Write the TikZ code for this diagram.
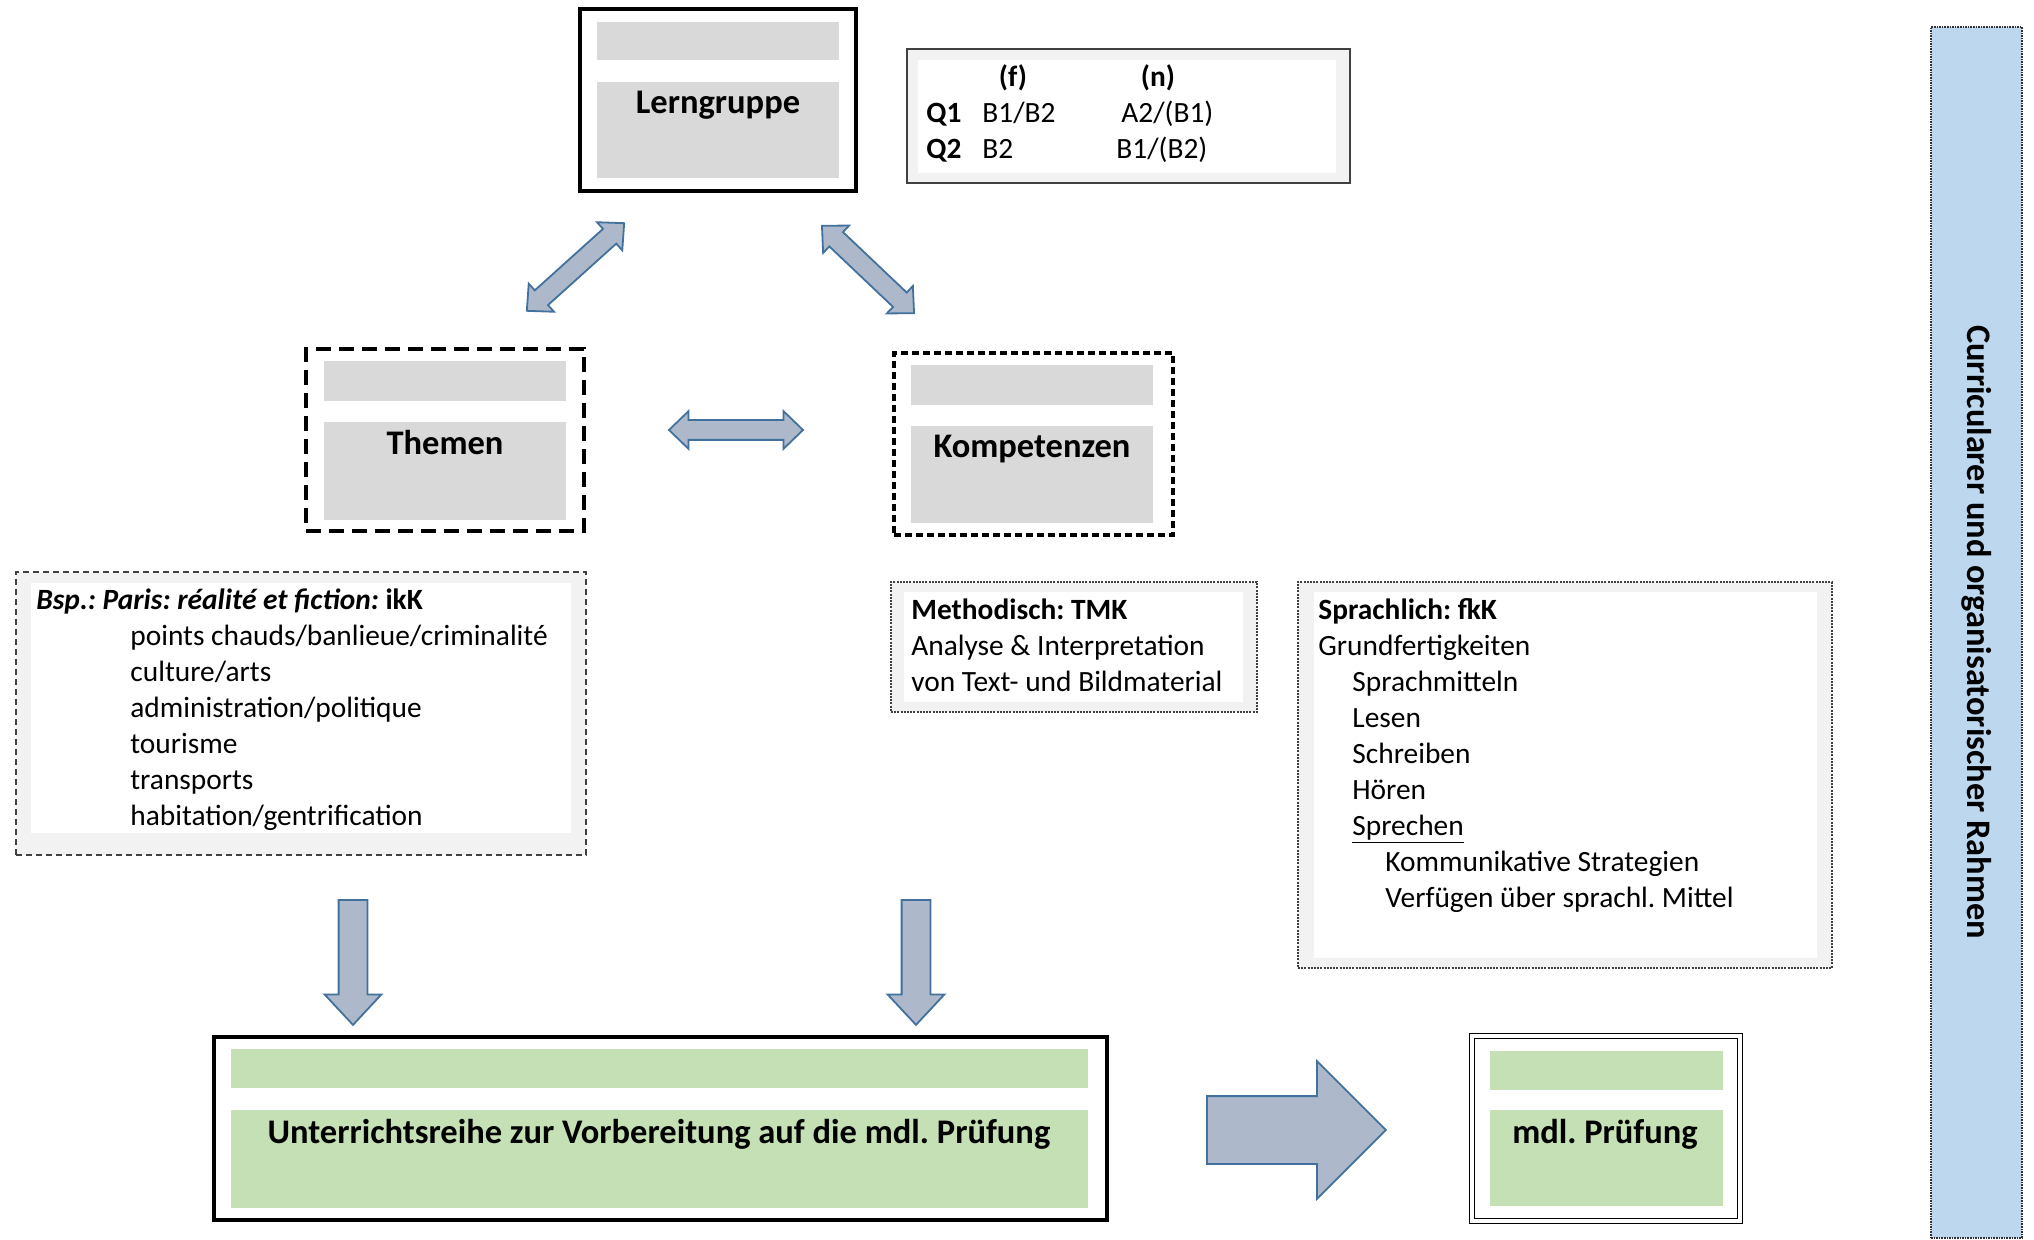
\documentclass[tikz,border=0pt]{standalone}
\usepackage{fontspec}
\setmainfont{Carlito}
\usetikzlibrary{shapes.arrows,fit}
\frenchspacing

\definecolor{bandgrey}{HTML}{D9D9D9}
\definecolor{panelgrey}{HTML}{F2F2F2}
\definecolor{bandgreen}{HTML}{C5E0B4}
\definecolor{arrowfill}{HTML}{ADB9CA}
\definecolor{arrowedge}{HTML}{41719C}
\definecolor{barblue}{HTML}{BDD7EE}

\newcommand\diagbody{\fontsize{14.7}{18}\selectfont}
\newcommand\diaghead{\fontsize{17.25}{21}\selectfont\bfseries}

\begin{document}
\begin{tikzpicture}[
	x=0.5pt, y=-0.5pt,
	font=\diagbody,
	solidbox/.style={
		draw=black,
		line width=1.6pt,
		inner sep=0pt
	},
	themebox/.style={
		solidbox,
		dash pattern=on 7.5pt off 4pt
	},
	compbox/.style={
		solidbox,
		dash pattern=on 3.5pt off 2pt
	},
	tablebox/.style={
		draw=black!75,
		line width=0.6pt,
		fill=panelgrey,
		inner sep=0pt
	},
	notebox/.style={
		tablebox,
		dash pattern=on 3pt off 2pt
	},
	finebox/.style={
		tablebox,
		dash pattern=on 1pt off 0.6pt
	},
	exambox/.style={
		draw=black,
		double=white,
		double distance=1.8pt,
		line width=0.8pt,
		inner sep=0pt
	},
	heading/.style={
		font=\diaghead,
		anchor=base
	},
	cell/.style={
		anchor=base west,
		inner sep=0pt
	},
	notetext/.style={
		anchor=base west,
		inner sep=0pt,
		align=left
	},
	fatarrow/.style={
		single arrow,
		draw=arrowedge,
		fill=arrowfill,
		line width=0.9pt,
		inner xsep=0pt,
		anchor=tail
	},
	twoarrow/.style={
		double arrow,
		draw=arrowedge,
		fill=arrowfill,
		line width=0.9pt,
		inner xsep=0pt,
		inner ysep=4.5pt,
		double arrow head extend=4.5pt,
		double arrow tip angle=88
	}
	]

	\useasboundingbox (0,0) rectangle (2034,1240);

	% Lerngruppe
	\node[solidbox, fit={(580,9) (856,191)}] (lern) {};
	\fill[bandgrey] (597,22) rectangle (839,60);
	\fill[bandgrey] (597,82) rectangle (839,178);
	\node[heading] (lerntitle) at (718,114) {Lerngruppe};

	% Niveaus
	\node[tablebox, fit={(907,49) (1350,183)}] (niveau) {};
	\fill[white] (918,60) rectangle (1336,173);
	\node[anchor=base] (colf) at (1013,87) {\textbf{(f)}};
	\node[anchor=base] (coln) at (1158,87) {\textbf{(n)}};
	\node[cell] (qone) at (926,123) {\textbf{Q1}};
	\node[cell] (qonef) at (982,123) {B1/B2};
	\node[cell] (qonen) at (1121,123) {A2/(B1)};
	\node[cell] (qtwo) at (926,159) {\textbf{Q2}};
	\node[cell] (qtwof) at (982,159) {B2};
	\node[cell] (qtwon) at (1116,159) {B1/(B2)};

	% Themen und Kompetenzen
	\node[themebox, fit={(306,349) (584,531)}] (themen) {};
	\fill[bandgrey] (324,361) rectangle (566,401);
	\fill[bandgrey] (324,422) rectangle (566,520);
	\node[heading] (thementitle) at (445,455) {Themen};

	\node[compbox, fit={(894,353) (1173,535)}] (komp) {};
	\fill[bandgrey] (911,365) rectangle (1153,405);
	\fill[bandgrey] (911,426) rectangle (1153,523);
	\node[heading] (komptitle) at (1032,458) {Kompetenzen};

	\node[twoarrow, minimum height=65.5pt, rotate=42] (lernthemen) at (575.5,267) {};
	\node[twoarrow, minimum height=63.5pt, rotate=-43.5] (lernkomp) at (868,269.5) {};
	\node[twoarrow, minimum height=67pt] (themenkomp) at (736,430) {};

	% Beispiel und Kompetenzbereiche
	\node[notebox, fit={(16,572) (586,855)}] (paris) {};
	\fill[white] (31,583) rectangle (571,833);
	\node[notetext] (paristext) at (36,825) {\textbf{\textit{Bsp.: Paris: réalité et fiction:}} \textbf{ikK}\\
		\hspace*{47pt}points chauds/banlieue/criminalité\\
		\hspace*{47pt}culture/arts\\
		\hspace*{47pt}administration/politique\\
		\hspace*{47pt}tourisme\\
		\hspace*{47pt}transports\\
		\hspace*{47pt}habitation/gentrification};

	\node[finebox, fit={(891,582) (1257,712)}] (method) {};
	\fill[white] (904,592) rectangle (1243,702);
	\node[notetext] (methodtext) at (911,691) {\textbf{Methodisch: TMK}\\
		Analyse \& Interpretation\\
		von Text- und Bildmaterial};

	\node[finebox, fit={(1298,582) (1832,968)}] (sprache) {};
	\fill[white] (1314,592) rectangle (1817,958);
	\node[notetext] (sprachtext) at (1318,907) {\textbf{Sprachlich: fkK}\\
		Grundfertigkeiten\\
		\hspace*{17pt}Sprachmitteln\\
		\hspace*{17pt}Lesen\\
		\hspace*{17pt}Schreiben\\
		\hspace*{17pt}Hören\\
		\hspace*{17pt}\underline{Sprechen}\\
		\hspace*{33.5pt}Kommunikative Strategien\\
		\hspace*{33.5pt}Verfügen über sprachl. Mittel};

	% Unterrichtsreihe und Pruefung
	\node[fatarrow, minimum height=62.5pt, inner ysep=6.75pt, single arrow head extend=7pt,
		single arrow tip angle=86, rotate=-90] (themenreihe) at (353,899) {};
	\node[fatarrow, minimum height=62.5pt, inner ysep=6.75pt, single arrow head extend=7pt,
		single arrow tip angle=86, rotate=-90] (kompreihe) at (916,899) {};

	\node[solidbox, fit={(214,1037) (1107,1220)}] (reihe) {};
	\fill[bandgreen] (231,1049) rectangle (1088,1088);
	\fill[bandgreen] (231,1110) rectangle (1088,1208);
	\node[heading] (reihetitle) at (659,1143) {Unterrichtsreihe zur Vorbereitung auf die mdl. Prüfung};

	\node[fatarrow, minimum height=89.5pt, inner ysep=16.5pt, single arrow head extend=17.5pt]
		(reihepruef) at (1206,1130) {};

	\node[exambox, fit={(1472,1036) (1740,1221)}] (pruefung) {};
	\fill[bandgreen] (1490,1051) rectangle (1723,1090);
	\fill[bandgreen] (1490,1110) rectangle (1723,1206);
	\node[heading] (prueftitle) at (1605,1143) {mdl. Prüfung};

	% Rahmen
	\node[fill=barblue, draw=black!80, line width=0.6pt, dash pattern=on 0.8pt off 0.5pt,
		inner sep=0pt, fit={(1931,27) (2022,1238)}] (rahmen) {};
	\node[font=\fontsize{17.2}{20}\selectfont\bfseries, rotate=-90] (rahmentitle) at (1977,632)
		{Curricularer und organisatorischer Rahmen};
\end{tikzpicture}
\end{document}
